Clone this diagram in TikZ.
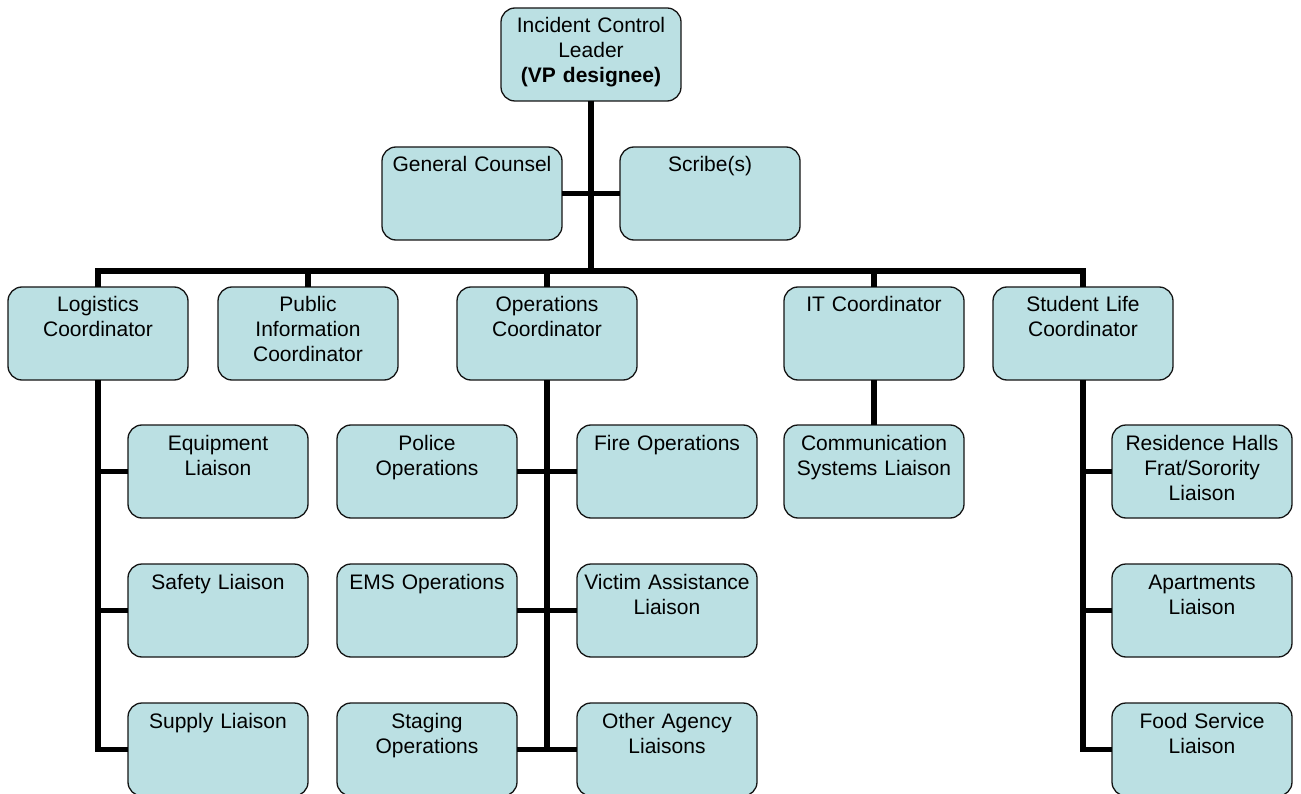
\documentclass[tikz,border=0pt]{standalone}
\usepackage{fontspec}
\setmainfont{Liberation Sans}
\usetikzlibrary{positioning}
\definecolor{unitfill}{HTML}{BBE0E3}
\definecolor{inkgray}{HTML}{141414}

\begin{document}
\begin{tikzpicture}[x=1pt,y=-1pt,node distance=46pt]
   \tikzstyle{link} = [line width=5.5pt, black]
   \tikzset{unit/.style = {rectangle, rounded corners=14pt, draw=inkgray, line width=1.3pt, fill=unitfill, text=black, font=\fontsize{21}{25}\selectfont, align=center, text width=174pt, inner xsep=3pt, inner ysep=4pt, text height=21pt, text depth=64pt, outer sep=0pt, anchor=north west}, }
   \useasboundingbox (0,0) rectangle (1301,794);

   % leader and staff
   \node[unit] (ICL) at (501,8) {Incident Control\\Leader\\\textbf{(VP designee)}};
   \node[unit] (GC) at (382,147) {General Counsel};
   \node[unit] (SCR) at (620,147) {Scribe(s)};

   % coordinators
   \node[unit] (LOG) at (8,287) {Logistics\\Coordinator};
   \node[unit] (PIC) at (218,287) {Public\\Information\\Coordinator};
   \node[unit] (OPS) at (457,287) {Operations\\Coordinator};
   \node[unit] (ITC) at (784,287) {IT Coordinator};
   \node[unit] (SLC) at (993,287) {Student Life\\Coordinator};

   % liaisons
   \node[unit] (EQL) at (128,425) {Equipment\\Liaison};
   \node[unit, below=of EQL] (SAF) {Safety Liaison};
   \node[unit, below=of SAF] (SUP) {Supply Liaison};

   \node[unit] (POL) at (337,425) {Police\\Operations};
   \node[unit, below=of POL] (EMS) {EMS Operations};
   \node[unit, below=of EMS] (STG) {Staging\\Operations};

   \node[unit] (FIR) at (577,425) {Fire Operations};
   \node[unit, below=of FIR] (VIC) {Victim Assistance\\Liaison};
   \node[unit, below=of VIC] (OAL) {Other Agency\\Liaisons};

   \node[unit] (CSL) at (784,425) {Communication\\Systems Liaison};

   \node[unit] (RES) at (1112,425) {Residence Halls\\Frat/Sorority\\Liaison};
   \node[unit, below=of RES] (APT) {Apartments\\Liaison};
   \node[unit, below=of APT] (FSL) {Food Service\\Liaison};

   % connectors
   \coordinate (BUS) at (591,271);
   \draw[link] (ICL.south) -- (BUS);
   \draw[link] (GC.east) -- (SCR.west);
   \draw[link] (LOG.north) |- (BUS) -| (SLC.north);
   \foreach \n in {PIC,OPS,ITC}
      \draw[link] (\n.north) -- (\n.north |- BUS);

   \draw[link] (LOG.south) |- (SUP.west);
   \foreach \n in {EQL,SAF}
      \draw[link] (\n.west) -- (\n.west -| LOG.south);

   \draw[link] (OPS.south) -- ([yshift=-2.75pt]OPS.south |- STG.east);
   \draw[link] (POL.east) -- (FIR.west);
   \draw[link] (EMS.east) -- (VIC.west);
   \draw[link] (STG.east) -- (OAL.west);

   \draw[link] (ITC.south) -- (CSL.north);

   \draw[link] (SLC.south) |- (FSL.west);
   \foreach \n in {RES,APT}
      \draw[link] (\n.west) -- (\n.west -| SLC.south);
\end{tikzpicture}
\end{document}
